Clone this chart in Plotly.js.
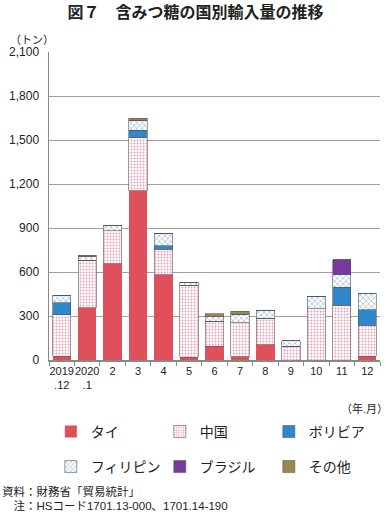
<!DOCTYPE html>
<html><head><meta charset="utf-8">
<script src="https://cdn.plot.ly/plotly-3.0.1.min.js"></script>
<style>html,body{margin:0;padding:0;background:#fff}</style>
</head><body><div id="chart" style="width:391px;height:512px"></div>
<script>
const categories = ["2019<br>.12","2020<br>.1","2","3","4","5","6","7","8","9","10","11","12"];
const thai        = [25, 355, 655, 1155, 580, 20, 95, 22, 105, 0, 0, 0, 25];
const china       = [285, 325, 225, 360, 175, 490, 170, 232, 180, 95, 350, 373, 211];
const bolivia     = [80, 0, 0, 52, 25, 0, 0, 0, 0, 0, 0, 123, 105];
const philippines = [50, 25, 40, 68, 83, 20, 30, 57, 50, 37, 85, 84, 110];
const brazil      = [0, 0, 0, 0, 0, 0, 0, 0, 0, 0, 0, 102, 0];
const other       = [0, 10, 0, 15, 0, 0, 22, 22, 0, 0, 0, 0, 5];
const seriesNames = ["タイ","中国","ボリビア","フィリピン","ブラジル","その他"];

const FONT = "Liberation Sans, Arial, 'Noto Sans CJK JP', sans-serif";
const edge = {color:'#555', width:0.6};
const traces = [
  {name:seriesNames[0], y:thai, marker:{color:'#e0505c', line:{color:'#e0505c',width:0}}, legend:'legend'},
  {name:seriesNames[1], y:china, marker:{color:'#ffffff', line:edge, pattern:{shape:'.', fgcolor:'#eb9ab4', bgcolor:'#ffffff', size:3, solidity:0.3}}, legend:'legend'},
  {name:seriesNames[2], y:bolivia, marker:{color:'#2f88c9', line:edge}, legend:'legend'},
  {name:seriesNames[3], y:philippines, marker:{color:'#ffffff', line:edge, pattern:{shape:'x', fgcolor:'#8fb2dc', bgcolor:'#ffffff', size:4, solidity:0.3}}, legend:'legend2'},
  {name:seriesNames[4], y:brazil, marker:{color:'#773a9c', line:edge}, legend:'legend2'},
  {name:seriesNames[5], y:other, marker:{color:'#9a8650', line:edge}, legend:'legend2'}
].map(t => Object.assign({type:'bar', x:categories, hoverinfo:'skip'}, t));

const legendCommon = {orientation:'h', xref:'container', yref:'container', x:0.13, xanchor:'left', yanchor:'middle',
  entrywidth:64, entrywidthmode:'pixels', traceorder:'normal', font:{family:FONT, size:14, color:'#222'}, bgcolor:'rgba(0,0,0,0)'};

// paper coordinates: plot area x 49..380, y 52..360 (px)
const px = x => (x - 49) / 331;
const py = y => (360 - y) / 308;

const layout = {
  width:391, height:512,
  margin:{l:49, r:11, t:52, b:152},
  paper_bgcolor:'#fff', plot_bgcolor:'#fff',
  barmode:'stack', bargap:0.28,
  font:{family:FONT, size:12, color:'#222'},
  title:{text:'<b>図７　含みつ糖の国別輸入量の推移</b>', x:0.5, xanchor:'center', y:0.976, yanchor:'middle', font:{family:FONT, size:16, color:'#222'}},
  xaxis:{type:'category', tickangle:0, tickson:'boundaries', ticks:'outside', ticklen:4, tickcolor:'#888', showline:true, linecolor:'#888', linewidth:1.5,
    tickfont:{family:FONT, size:11, color:'#222'}, fixedrange:true, automargin:false},
  yaxis:{range:[0,2100], dtick:300, tickformat:',', showgrid:true, gridcolor:'#a0a0a0', gridwidth:1,
    showline:true, linecolor:'#888', linewidth:1.5, ticks:'', zeroline:false,
    tickfont:{family:FONT, size:12, color:'#222'}, ticklabelstandoff:6, fixedrange:true, automargin:false},
  showlegend:true,
  legend:Object.assign({}, legendCommon, {y:1-432/512}),
  legend2:Object.assign({}, legendCommon, {y:1-467/512}),
  annotations:[
    {text:'（トン）', xref:'paper', yref:'paper', x:px(8), y:py(40), xanchor:'left', yanchor:'middle', showarrow:false, font:{family:FONT, size:11}},
    {text:'（年.月）', xref:'paper', yref:'paper', x:px(390), y:py(408), xanchor:'right', yanchor:'middle', showarrow:false, font:{family:FONT, size:11}},
    {text:'資料：財務省「貿易統計」', xref:'paper', yref:'paper', x:px(0), y:py(491), xanchor:'left', yanchor:'middle', showarrow:false, font:{family:FONT, size:11.5}},
    {text:'　注：HSコード1701.13-000、1701.14-190', xref:'paper', yref:'paper', x:px(0), y:py(506), xanchor:'left', yanchor:'middle', showarrow:false, font:{family:FONT, size:11.5}}
  ]
};
Plotly.newPlot('chart', traces, layout, {displayModeBar:false, staticPlot:true});
</script></body></html>
